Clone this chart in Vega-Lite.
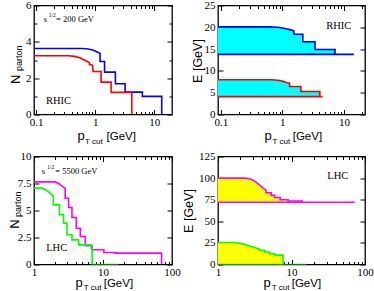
{
"$schema":"https://vega.github.io/schema/vega-lite/v6.json",
"padding":{"left":7,"top":-1.5,"right":0,"bottom":0},
"background":"white",
"columns":2,
"spacing":{"row":42,"column":46},
"bounds":"flush",
"align":"each",
"datasets":{
"d1":[
{"s":"b","i":0,"x":0.092,"y":3.63},{"s":"b","i":1,"x":0.6,"y":3.63},{"s":"b","i":2,"x":0.7,"y":3.62},{"s":"b","i":3,"x":0.8,"y":3.59},{"s":"b","i":4,"x":0.9,"y":3.55},{"s":"b","i":5,"x":1.0,"y":3.5},{"s":"b","i":6,"x":1.1,"y":3.43},{"s":"b","i":7,"x":1.21,"y":3.37},{"s":"b","i":8,"x":1.21,"y":2.92},{"s":"b","i":9,"x":1.44,"y":2.92},{"s":"b","i":10,"x":1.44,"y":2.33},{"s":"b","i":11,"x":2.2,"y":2.33},{"s":"b","i":12,"x":2.2,"y":1.69},{"s":"b","i":13,"x":3.21,"y":1.69},{"s":"b","i":14,"x":3.21,"y":1.23},{"s":"b","i":15,"x":6.3,"y":1.23},{"s":"b","i":16,"x":6.3,"y":1.0},{"s":"b","i":17,"x":13.4,"y":1.0},{"s":"b","i":18,"x":13.4,"y":0},
{"s":"r","i":19,"x":0.092,"y":3.23},{"s":"r","i":20,"x":0.35,"y":3.23},{"s":"r","i":21,"x":0.45,"y":3.2},{"s":"r","i":22,"x":0.55,"y":3.12},{"s":"r","i":23,"x":0.65,"y":3.0},{"s":"r","i":24,"x":0.75,"y":2.9},{"s":"r","i":25,"x":0.8,"y":2.85},{"s":"r","i":26,"x":0.8,"y":2.75},{"s":"r","i":27,"x":0.9,"y":2.72},{"s":"r","i":28,"x":0.92,"y":2.37},{"s":"r","i":29,"x":1.26,"y":2.37},{"s":"r","i":30,"x":1.26,"y":1.78},{"s":"r","i":31,"x":1.86,"y":1.78},{"s":"r","i":32,"x":1.86,"y":1.22},{"s":"r","i":33,"x":4.17,"y":1.22},{"s":"r","i":34,"x":4.17,"y":0}
],
"d2a":[
{"s":"b","i":0,"x":0.09,"y":20.1,"b":13.8},{"s":"b","i":1,"x":0.6,"y":20.1,"b":13.8},{"s":"b","i":2,"x":0.85,"y":20.0,"b":13.8},{"s":"b","i":3,"x":1.0,"y":19.85,"b":13.8},{"s":"b","i":4,"x":1.2,"y":19.6,"b":13.8},{"s":"b","i":5,"x":1.4,"y":19.35,"b":13.8},{"s":"b","i":6,"x":1.54,"y":19.2,"b":13.8},{"s":"b","i":7,"x":1.54,"y":18.4,"b":13.8},{"s":"b","i":8,"x":2.15,"y":18.4,"b":13.8},{"s":"b","i":9,"x":2.15,"y":16.7,"b":13.8},{"s":"b","i":10,"x":3.39,"y":16.7,"b":13.8},{"s":"b","i":11,"x":3.39,"y":14.9,"b":13.8},{"s":"b","i":12,"x":7.16,"y":14.9,"b":13.8},{"s":"b","i":13,"x":7.16,"y":13.8,"b":13.8},
{"s":"r","i":14,"x":0.09,"y":7.98,"b":4.1},{"s":"r","i":15,"x":0.66,"y":7.98,"b":4.1},{"s":"r","i":16,"x":0.85,"y":7.85,"b":4.1},{"s":"r","i":17,"x":1.02,"y":7.6,"b":4.1},{"s":"r","i":18,"x":1.2,"y":7.3,"b":4.1},{"s":"r","i":19,"x":1.31,"y":7.2,"b":4.1},{"s":"r","i":20,"x":1.31,"y":6.43,"b":4.1},{"s":"r","i":21,"x":2.0,"y":6.43,"b":4.1},{"s":"r","i":22,"x":2.0,"y":5.27,"b":4.1},{"s":"r","i":23,"x":4.06,"y":5.27,"b":4.1},{"s":"r","i":24,"x":4.06,"y":4.1,"b":4.1}
],
"d2b":[{"s":"b","i":0,"x":0.09,"y":13.8},{"s":"b","i":1,"x":14.5,"y":13.8},{"s":"r","i":2,"x":0.09,"y":4.1},{"s":"r","i":3,"x":4.5,"y":4.1}],
"d3":[
{"s":"m","i":0,"x":1,"y":7.65},{"s":"m","i":1,"x":2.0,"y":7.65},{"s":"m","i":2,"x":2.3,"y":7.5},{"s":"m","i":3,"x":2.54,"y":7.25},{"s":"m","i":4,"x":2.83,"y":7.05},{"s":"m","i":5,"x":2.83,"y":6.14},{"s":"m","i":6,"x":3.17,"y":6.14},{"s":"m","i":7,"x":3.17,"y":5.28},{"s":"m","i":8,"x":3.55,"y":5.28},{"s":"m","i":9,"x":3.55,"y":4.35},{"s":"m","i":10,"x":4.1,"y":4.35},{"s":"m","i":11,"x":4.1,"y":3.36},{"s":"m","i":12,"x":4.7,"y":3.36},{"s":"m","i":13,"x":4.7,"y":2.59},{"s":"m","i":14,"x":5.55,"y":2.59},{"s":"m","i":15,"x":5.55,"y":1.73},{"s":"m","i":16,"x":6.95,"y":1.73},{"s":"m","i":17,"x":6.95,"y":1.36},{"s":"m","i":18,"x":10.3,"y":1.36},{"s":"m","i":19,"x":10.3,"y":1.11},{"s":"m","i":20,"x":15.2,"y":1.11},{"s":"m","i":21,"x":15.2,"y":1.05},{"s":"m","i":22,"x":70.7,"y":1.05},{"s":"m","i":23,"x":70.7,"y":0},
{"s":"g","i":24,"x":1,"y":7.07},{"s":"g","i":25,"x":1.3,"y":7.07},{"s":"g","i":26,"x":1.5,"y":6.9},{"s":"g","i":27,"x":1.71,"y":6.6},{"s":"g","i":28,"x":1.91,"y":6.3},{"s":"g","i":29,"x":1.91,"y":5.52},{"s":"g","i":30,"x":2.34,"y":5.52},{"s":"g","i":31,"x":2.34,"y":4.6},{"s":"g","i":32,"x":2.68,"y":4.6},{"s":"g","i":33,"x":2.68,"y":3.83},{"s":"g","i":34,"x":3.0,"y":3.83},{"s":"g","i":35,"x":3.0,"y":2.75},{"s":"g","i":36,"x":3.55,"y":2.75},{"s":"g","i":37,"x":3.55,"y":2.28},{"s":"g","i":38,"x":4.43,"y":2.28},{"s":"g","i":39,"x":4.43,"y":1.82},{"s":"g","i":40,"x":6.71,"y":1.82},{"s":"g","i":41,"x":6.71,"y":1.51},{"s":"g","i":42,"x":6.95,"y":1.51},{"s":"g","i":43,"x":6.95,"y":0},{"s":"g","i":44,"x":16.8,"y":0}
],
"d4a":[
{"s":"m","i":0,"x":1,"y":100,"b":72.1},{"s":"m","i":1,"x":2.3,"y":100,"b":72.1},{"s":"m","i":2,"x":2.7,"y":99.3,"b":72.1},{"s":"m","i":3,"x":3.16,"y":96.5,"b":72.1},{"s":"m","i":4,"x":3.69,"y":92,"b":72.1},{"s":"m","i":5,"x":4.1,"y":88.5,"b":72.1},{"s":"m","i":6,"x":4.5,"y":86,"b":72.1},{"s":"m","i":7,"x":4.5,"y":83,"b":72.1},{"s":"m","i":8,"x":5.3,"y":83,"b":72.1},{"s":"m","i":9,"x":5.3,"y":80,"b":72.1},{"s":"m","i":10,"x":5.9,"y":80,"b":72.1},{"s":"m","i":11,"x":5.9,"y":77.5,"b":72.1},{"s":"m","i":12,"x":7.0,"y":77.5,"b":72.1},{"s":"m","i":13,"x":7.0,"y":75,"b":72.1},{"s":"m","i":14,"x":9.0,"y":75,"b":72.1},{"s":"m","i":15,"x":9.0,"y":73.5,"b":72.1},{"s":"m","i":16,"x":14,"y":73.5,"b":72.1},{"s":"m","i":17,"x":14,"y":72.1,"b":72.1},
{"s":"g","i":18,"x":1,"y":25.5,"b":0},{"s":"g","i":19,"x":1.7,"y":25.5,"b":0},{"s":"g","i":20,"x":2.07,"y":24.2,"b":0},{"s":"g","i":21,"x":2.56,"y":22,"b":0},{"s":"g","i":22,"x":3.16,"y":19.7,"b":0},{"s":"g","i":23,"x":3.69,"y":17.5,"b":0},{"s":"g","i":24,"x":3.69,"y":16.5,"b":0},{"s":"g","i":25,"x":4.32,"y":16.5,"b":0},{"s":"g","i":26,"x":4.32,"y":14.5,"b":0},{"s":"g","i":27,"x":5.05,"y":14.5,"b":0},{"s":"g","i":28,"x":5.05,"y":12.5,"b":0},{"s":"g","i":29,"x":5.9,"y":12.5,"b":0},{"s":"g","i":30,"x":5.9,"y":10.8,"b":0},{"s":"g","i":31,"x":7.67,"y":10.8,"b":0},{"s":"g","i":32,"x":7.67,"y":0,"b":0}
],
"d4b":[{"s":"m","i":0,"x":1,"y":72.1},{"s":"m","i":1,"x":72.3,"y":72.1},{"s":"g","i":2,"x":1,"y":0},{"s":"g","i":3,"x":15.9,"y":0}],
"t1":[{"x":0.135,"y":5.24,"t":"s"},{"x":0.218,"y":5.24,"t":"= 200 GeV"}],
"t1s":[{"x":0.164,"y":5.45,"t":"1/2"}],
"t1b":[{"x":0.147,"y":0.72,"t":"RHIC"}],
"t2b":[{"x":5.14,"y":20.3,"t":"RHIC"}],
"t3":[{"x":1.296,"y":8.7,"t":"s"},{"x":2.03,"y":8.7,"t":"= 5500 GeV"}],
"t3s":[{"x":1.55,"y":9.04,"t":"1/2"}],
"t3b":[{"x":1.5,"y":1.51,"t":"LHC"}],
"t4b":[{"x":30.7,"y":102.7,"t":"LHC"}]
},
"concat":[
{
"width":138,"height":109,
"layer":[
{"data":{"name":"d1"},"mark":{"type":"line","strokeWidth":1.6,"clip":true},
 "encoding":{"x":{"field":"x","type":"quantitative","scale":{"type":"log","domain":[0.092,20],"nice":false},"axis":null},
 "y":{"field":"y","type":"quantitative","scale":{"domain":[0,6],"nice":false},"axis":null},
 "color":{"field":"s","type":"nominal","scale":{"domain":["b","r","m","g"],"range":["#0000ff","#ff0000","#ff00ff","#00ff00"]},"legend":null},
 "order":{"field":"i","type":"quantitative"}}},
{"data":{"name":"t1"},"mark":{"type":"text","font":"Liberation Serif","fontSize":8.5,"align":"left","baseline":"middle","color":"#000"},
 "encoding":{"x":{"field":"x","type":"quantitative","scale":{"type":"log","domain":[0.092,20],"nice":false},"axis":null},"y":{"field":"y","type":"quantitative","scale":{"domain":[0,6],"nice":false},"axis":null},"text":{"field":"t","type":"nominal"}}},
{"data":{"name":"t1s"},"mark":{"type":"text","font":"Liberation Serif","fontSize":5.5,"align":"left","baseline":"middle","color":"#000"},
 "encoding":{"x":{"field":"x","type":"quantitative","scale":{"type":"log","domain":[0.092,20],"nice":false},"axis":null},"y":{"field":"y","type":"quantitative","scale":{"domain":[0,6],"nice":false},"axis":null},"text":{"field":"t","type":"nominal"}}},
{"data":{"name":"t1b"},"mark":{"type":"text","font":"Liberation Serif","fontSize":10.5,"align":"left","baseline":"middle","color":"#000"},
 "encoding":{"x":{"field":"x","type":"quantitative","scale":{"type":"log","domain":[0.092,20],"nice":false},"axis":null},"y":{"field":"y","type":"quantitative","scale":{"domain":[0,6],"nice":false},"axis":null},"text":{"field":"t","type":"nominal"}}},
{"data":{"name":"d1"},"mark":{"type":"point","opacity":0},
 "encoding":{"x":{"field":"x","type":"quantitative","scale":{"type":"log","domain":[0.092,20],"nice":false},"axis":{"orient":"bottom","values":[0.1,1,10],"labelExpr":"'' + datum.value","tickSize":-5,"labelPadding":7,"title":"p","titleFontSize":13,"titleAlign":"left","titleX":43,"titleY":25,"titleBaseline":"alphabetic"}},
 "y":{"field":"y","type":"quantitative","scale":{"domain":[0,6],"nice":false},"axis":{"orient":"left","values":[0,2,4,6],"labelExpr":"'' + datum.value","tickSize":-5,"labelPadding":8,"title":"N","titleFontSize":13,"titleAngle":-90,"titleAlign":"left","titleX":-14.7,"titleY":78,"titleBaseline":"alphabetic"}}}},
{"data":{"name":"d1"},"mark":{"type":"point","opacity":0},
 "encoding":{"x":{"field":"x","type":"quantitative","scale":{"type":"log","domain":[0.092,20],"nice":false},"axis":{"orient":"bottom","labels":false,"ticks":false,"title":"T cut","titleFontSize":8,"titleAlign":"left","titleX":50.5,"titleY":28.5,"titleBaseline":"alphabetic"}},
 "y":{"field":"y","type":"quantitative","scale":{"domain":[0,6],"nice":false},"axis":{"orient":"left","labels":false,"ticks":false,"title":"parton","titleFontSize":9,"titleAngle":-90,"titleAlign":"left","titleX":-12.3,"titleY":65,"titleBaseline":"alphabetic"}}}},
{"data":{"name":"d1"},"mark":{"type":"point","opacity":0},
 "encoding":{"x":{"field":"x","type":"quantitative","scale":{"type":"log","domain":[0.092,20],"nice":false},"axis":{"orient":"bottom","labels":false,"ticks":false,"title":"[GeV]","titleFontSize":11.5,"titleAlign":"left","titleX":72,"titleY":25,"titleBaseline":"alphabetic"}},
 "y":{"field":"y","type":"quantitative","scale":{"domain":[0,6],"nice":false},"axis":null}}},
{"data":{"name":"d1"},"mark":{"type":"point","opacity":0},
 "encoding":{"x":{"field":"x","type":"quantitative","scale":{"type":"log","domain":[0.092,20],"nice":false},"axis":{"orient":"top","values":[0.1,1,10],"labels":false,"tickSize":-5,"title":null}},
 "y":{"field":"y","type":"quantitative","scale":{"domain":[0,6],"nice":false},"axis":{"orient":"right","values":[0,2,4,6],"labels":false,"tickSize":-5,"title":null}}}},
{"data":{"name":"d1"},"mark":{"type":"point","opacity":0},
 "encoding":{"x":{"field":"x","type":"quantitative","scale":{"type":"log","domain":[0.092,20],"nice":false},"axis":{"orient":"bottom","values":[0.2,0.3,0.4,0.5,0.6,0.7,0.8,0.9,2,3,4,5,6,7,8,9],"labels":false,"tickSize":-3,"title":null}},
 "y":{"field":"y","type":"quantitative","scale":{"domain":[0,6],"nice":false},"axis":{"orient":"left","values":[1,3,5],"labels":false,"tickSize":-3,"title":null}}}},
{"data":{"name":"d1"},"mark":{"type":"point","opacity":0},
 "encoding":{"x":{"field":"x","type":"quantitative","scale":{"type":"log","domain":[0.092,20],"nice":false},"axis":{"orient":"top","values":[0.2,0.3,0.4,0.5,0.6,0.7,0.8,0.9,2,3,4,5,6,7,8,9],"labels":false,"tickSize":-3,"title":null}},
 "y":{"field":"y","type":"quantitative","scale":{"domain":[0,6],"nice":false},"axis":{"orient":"right","values":[1,3,5],"labels":false,"tickSize":-3,"title":null}}}}
],
"resolve":{"axis":{"x":"independent","y":"independent"}}
},
{
"width":147,"height":109,
"layer":[
{"data":{"name":"d2a"},"mark":{"type":"area","color":"#00ffff","opacity":1,"clip":true},
 "encoding":{"x":{"field":"x","type":"quantitative","scale":{"type":"log","domain":[0.09,22],"nice":false},"axis":null},
 "y":{"field":"y","type":"quantitative","scale":{"domain":[0,25],"nice":false},"axis":null,"stack":null},
 "y2":{"field":"b"},"detail":{"field":"s","type":"nominal"}}},
{"data":{"name":"d2a"},"mark":{"type":"line","strokeWidth":1.6,"clip":true},
 "encoding":{"x":{"field":"x","type":"quantitative","scale":{"type":"log","domain":[0.09,22],"nice":false},"axis":null},
 "y":{"field":"y","type":"quantitative","scale":{"domain":[0,25],"nice":false},"axis":null},
 "color":{"field":"s","type":"nominal","scale":{"domain":["b","r","m","g"],"range":["#0000ff","#ff0000","#ff00ff","#00ff00"]},"legend":null},
 "order":{"field":"i","type":"quantitative"}}},
{"data":{"name":"d2b"},"mark":{"type":"line","strokeWidth":1.6,"clip":true},
 "encoding":{"x":{"field":"x","type":"quantitative","scale":{"type":"log","domain":[0.09,22],"nice":false},"axis":null},
 "y":{"field":"y","type":"quantitative","scale":{"domain":[0,25],"nice":false},"axis":null},
 "color":{"field":"s","type":"nominal","scale":{"domain":["b","r","m","g"],"range":["#0000ff","#ff0000","#ff00ff","#00ff00"]},"legend":null},
 "order":{"field":"i","type":"quantitative"}}},
{"data":{"name":"t2b"},"mark":{"type":"text","font":"Liberation Serif","fontSize":10.5,"align":"left","baseline":"middle","color":"#000"},
 "encoding":{"x":{"field":"x","type":"quantitative","scale":{"type":"log","domain":[0.09,22],"nice":false},"axis":null},"y":{"field":"y","type":"quantitative","scale":{"domain":[0,25],"nice":false},"axis":null},"text":{"field":"t","type":"nominal"}}},
{"data":{"name":"d2a"},"mark":{"type":"point","opacity":0},
 "encoding":{"x":{"field":"x","type":"quantitative","scale":{"type":"log","domain":[0.09,22],"nice":false},"axis":{"orient":"bottom","values":[0.1,1,10],"labelExpr":"'' + datum.value","tickSize":-5,"labelPadding":7,"title":"p","titleFontSize":13,"titleAlign":"left","titleX":46,"titleY":25,"titleBaseline":"alphabetic"}},
 "y":{"field":"y","type":"quantitative","scale":{"domain":[0,25],"nice":false},"axis":{"orient":"left","values":[0,5,10,15,20,25],"labelExpr":"'' + datum.value","tickSize":-5,"labelPadding":8,"title":"E [GeV]","titleFontSize":12.5,"titleAngle":-90,"titleAlign":"center","titleX":-17,"titleY":55,"titleBaseline":"alphabetic"}}}},
{"data":{"name":"d2a"},"mark":{"type":"point","opacity":0},
 "encoding":{"x":{"field":"x","type":"quantitative","scale":{"type":"log","domain":[0.09,22],"nice":false},"axis":{"orient":"bottom","labels":false,"ticks":false,"title":"T cut","titleFontSize":8,"titleAlign":"left","titleX":54,"titleY":28.5,"titleBaseline":"alphabetic"}},
 "y":{"field":"y","type":"quantitative","scale":{"domain":[0,25],"nice":false},"axis":null}}},
{"data":{"name":"d2a"},"mark":{"type":"point","opacity":0},
 "encoding":{"x":{"field":"x","type":"quantitative","scale":{"type":"log","domain":[0.09,22],"nice":false},"axis":{"orient":"bottom","labels":false,"ticks":false,"title":"[GeV]","titleFontSize":11.5,"titleAlign":"left","titleX":74.2,"titleY":25,"titleBaseline":"alphabetic"}},
 "y":{"field":"y","type":"quantitative","scale":{"domain":[0,25],"nice":false},"axis":null}}},
{"data":{"name":"d2a"},"mark":{"type":"point","opacity":0},
 "encoding":{"x":{"field":"x","type":"quantitative","scale":{"type":"log","domain":[0.09,22],"nice":false},"axis":{"orient":"top","values":[0.1,1,10],"labels":false,"tickSize":-5,"title":null}},
 "y":{"field":"y","type":"quantitative","scale":{"domain":[0,25],"nice":false},"axis":{"orient":"right","values":[0,5,10,15,20,25],"labels":false,"tickSize":-5,"title":null}}}},
{"data":{"name":"d2a"},"mark":{"type":"point","opacity":0},
 "encoding":{"x":{"field":"x","type":"quantitative","scale":{"type":"log","domain":[0.09,22],"nice":false},"axis":{"orient":"bottom","values":[0.2,0.3,0.4,0.5,0.6,0.7,0.8,0.9,2,3,4,5,6,7,8,9,20],"labels":false,"tickSize":-3,"title":null}},
 "y":{"field":"y","type":"quantitative","scale":{"domain":[0,25],"nice":false},"axis":null}}},
{"data":{"name":"d2a"},"mark":{"type":"point","opacity":0},
 "encoding":{"x":{"field":"x","type":"quantitative","scale":{"type":"log","domain":[0.09,22],"nice":false},"axis":{"orient":"top","values":[0.2,0.3,0.4,0.5,0.6,0.7,0.8,0.9,2,3,4,5,6,7,8,9,20],"labels":false,"tickSize":-3,"title":null}},
 "y":{"field":"y","type":"quantitative","scale":{"domain":[0,25],"nice":false},"axis":null}}}
],
"resolve":{"axis":{"x":"independent","y":"independent"}}
},
{
"width":138,"height":108,
"layer":[
{"data":{"name":"d3"},"mark":{"type":"line","strokeWidth":1.6,"clip":true},
 "encoding":{"x":{"field":"x","type":"quantitative","scale":{"type":"log","domain":[1,100],"nice":false},"axis":null},
 "y":{"field":"y","type":"quantitative","scale":{"domain":[0,10],"nice":false},"axis":null},
 "color":{"field":"s","type":"nominal","scale":{"domain":["b","r","m","g"],"range":["#0000ff","#ff0000","#ff00ff","#00ff00"]},"legend":null},
 "order":{"field":"i","type":"quantitative"}}},
{"data":{"name":"t3"},"mark":{"type":"text","font":"Liberation Serif","fontSize":8.5,"align":"left","baseline":"middle","color":"#000"},
 "encoding":{"x":{"field":"x","type":"quantitative","scale":{"type":"log","domain":[1,100],"nice":false},"axis":null},"y":{"field":"y","type":"quantitative","scale":{"domain":[0,10],"nice":false},"axis":null},"text":{"field":"t","type":"nominal"}}},
{"data":{"name":"t3s"},"mark":{"type":"text","font":"Liberation Serif","fontSize":5.5,"align":"left","baseline":"middle","color":"#000"},
 "encoding":{"x":{"field":"x","type":"quantitative","scale":{"type":"log","domain":[1,100],"nice":false},"axis":null},"y":{"field":"y","type":"quantitative","scale":{"domain":[0,10],"nice":false},"axis":null},"text":{"field":"t","type":"nominal"}}},
{"data":{"name":"t3b"},"mark":{"type":"text","font":"Liberation Serif","fontSize":10.5,"align":"left","baseline":"middle","color":"#000"},
 "encoding":{"x":{"field":"x","type":"quantitative","scale":{"type":"log","domain":[1,100],"nice":false},"axis":null},"y":{"field":"y","type":"quantitative","scale":{"domain":[0,10],"nice":false},"axis":null},"text":{"field":"t","type":"nominal"}}},
{"data":{"name":"d3"},"mark":{"type":"point","opacity":0},
 "encoding":{"x":{"field":"x","type":"quantitative","scale":{"type":"log","domain":[1,100],"nice":false},"axis":{"orient":"bottom","values":[1,10,100],"labelExpr":"'' + datum.value","tickSize":-5,"labelPadding":7,"title":"p","titleFontSize":13,"titleAlign":"left","titleX":41,"titleY":21.5,"titleBaseline":"alphabetic"}},
 "y":{"field":"y","type":"quantitative","scale":{"domain":[0,10],"nice":false},"axis":{"orient":"left","values":[0,2.5,5,7.5,10],"labelExpr":"'' + datum.value","tickSize":-5,"labelPadding":8,"title":"N","titleFontSize":13,"titleAngle":-90,"titleAlign":"left","titleX":-16,"titleY":71.7,"titleBaseline":"alphabetic"}}}},
{"data":{"name":"d3"},"mark":{"type":"point","opacity":0},
 "encoding":{"x":{"field":"x","type":"quantitative","scale":{"type":"log","domain":[1,100],"nice":false},"axis":{"orient":"bottom","labels":false,"ticks":false,"title":"T cut","titleFontSize":8,"titleAlign":"left","titleX":49.3,"titleY":25,"titleBaseline":"alphabetic"}},
 "y":{"field":"y","type":"quantitative","scale":{"domain":[0,10],"nice":false},"axis":{"orient":"left","labels":false,"ticks":false,"title":"parton","titleFontSize":9,"titleAngle":-90,"titleAlign":"left","titleX":-13.3,"titleY":60,"titleBaseline":"alphabetic"}}}},
{"data":{"name":"d3"},"mark":{"type":"point","opacity":0},
 "encoding":{"x":{"field":"x","type":"quantitative","scale":{"type":"log","domain":[1,100],"nice":false},"axis":{"orient":"bottom","labels":false,"ticks":false,"title":"[GeV]","titleFontSize":11.5,"titleAlign":"left","titleX":69.2,"titleY":21.5,"titleBaseline":"alphabetic"}},
 "y":{"field":"y","type":"quantitative","scale":{"domain":[0,10],"nice":false},"axis":null}}},
{"data":{"name":"d3"},"mark":{"type":"point","opacity":0},
 "encoding":{"x":{"field":"x","type":"quantitative","scale":{"type":"log","domain":[1,100],"nice":false},"axis":{"orient":"top","values":[1,10,100],"labels":false,"tickSize":-5,"title":null}},
 "y":{"field":"y","type":"quantitative","scale":{"domain":[0,10],"nice":false},"axis":{"orient":"right","values":[0,2.5,5,7.5,10],"labels":false,"tickSize":-5,"title":null}}}},
{"data":{"name":"d3"},"mark":{"type":"point","opacity":0},
 "encoding":{"x":{"field":"x","type":"quantitative","scale":{"type":"log","domain":[1,100],"nice":false},"axis":{"orient":"bottom","values":[2,3,4,5,6,7,8,9,20,30,40,50,60,70,80,90],"labels":false,"tickSize":-3,"title":null}},
 "y":{"field":"y","type":"quantitative","scale":{"domain":[0,10],"nice":false},"axis":null}}},
{"data":{"name":"d3"},"mark":{"type":"point","opacity":0},
 "encoding":{"x":{"field":"x","type":"quantitative","scale":{"type":"log","domain":[1,100],"nice":false},"axis":{"orient":"top","values":[2,3,4,5,6,7,8,9,20,30,40,50,60,70,80,90],"labels":false,"tickSize":-3,"title":null}},
 "y":{"field":"y","type":"quantitative","scale":{"domain":[0,10],"nice":false},"axis":null}}}
],
"resolve":{"axis":{"x":"independent","y":"independent"}}
},
{
"width":147,"height":108,
"layer":[
{"data":{"name":"d4a"},"mark":{"type":"area","color":"#ffff00","opacity":1,"clip":true},
 "encoding":{"x":{"field":"x","type":"quantitative","scale":{"type":"log","domain":[1,100],"nice":false},"axis":null},
 "y":{"field":"y","type":"quantitative","scale":{"domain":[0,125],"nice":false},"axis":null,"stack":null},
 "y2":{"field":"b"},"detail":{"field":"s","type":"nominal"}}},
{"data":{"name":"d4a"},"mark":{"type":"line","strokeWidth":1.6,"clip":true},
 "encoding":{"x":{"field":"x","type":"quantitative","scale":{"type":"log","domain":[1,100],"nice":false},"axis":null},
 "y":{"field":"y","type":"quantitative","scale":{"domain":[0,125],"nice":false},"axis":null},
 "color":{"field":"s","type":"nominal","scale":{"domain":["b","r","m","g"],"range":["#0000ff","#ff0000","#ff00ff","#00ff00"]},"legend":null},
 "order":{"field":"i","type":"quantitative"}}},
{"data":{"name":"d4b"},"mark":{"type":"line","strokeWidth":1.6,"clip":true},
 "encoding":{"x":{"field":"x","type":"quantitative","scale":{"type":"log","domain":[1,100],"nice":false},"axis":null},
 "y":{"field":"y","type":"quantitative","scale":{"domain":[0,125],"nice":false},"axis":null},
 "color":{"field":"s","type":"nominal","scale":{"domain":["b","r","m","g"],"range":["#0000ff","#ff0000","#ff00ff","#00ff00"]},"legend":null},
 "order":{"field":"i","type":"quantitative"}}},
{"data":{"name":"t4b"},"mark":{"type":"text","font":"Liberation Serif","fontSize":10.5,"align":"left","baseline":"middle","color":"#000"},
 "encoding":{"x":{"field":"x","type":"quantitative","scale":{"type":"log","domain":[1,100],"nice":false},"axis":null},"y":{"field":"y","type":"quantitative","scale":{"domain":[0,125],"nice":false},"axis":null},"text":{"field":"t","type":"nominal"}}},
{"data":{"name":"d4a"},"mark":{"type":"point","opacity":0},
 "encoding":{"x":{"field":"x","type":"quantitative","scale":{"type":"log","domain":[1,100],"nice":false},"axis":{"orient":"bottom","values":[1,10,100],"labelExpr":"'' + datum.value","tickSize":-5,"labelPadding":7,"title":"p","titleFontSize":13,"titleAlign":"left","titleX":45,"titleY":21.5,"titleBaseline":"alphabetic"}},
 "y":{"field":"y","type":"quantitative","scale":{"domain":[0,125],"nice":false},"axis":{"orient":"left","values":[0,25,50,75,100,125],"labelExpr":"'' + datum.value","tickSize":-5,"labelPadding":8,"title":"E [GeV]","titleFontSize":12.5,"titleAngle":-90,"titleAlign":"center","titleX":-26,"titleY":54,"titleBaseline":"alphabetic"}}}},
{"data":{"name":"d4a"},"mark":{"type":"point","opacity":0},
 "encoding":{"x":{"field":"x","type":"quantitative","scale":{"type":"log","domain":[1,100],"nice":false},"axis":{"orient":"bottom","labels":false,"ticks":false,"title":"T cut","titleFontSize":8,"titleAlign":"left","titleX":53.3,"titleY":25,"titleBaseline":"alphabetic"}},
 "y":{"field":"y","type":"quantitative","scale":{"domain":[0,125],"nice":false},"axis":null}}},
{"data":{"name":"d4a"},"mark":{"type":"point","opacity":0},
 "encoding":{"x":{"field":"x","type":"quantitative","scale":{"type":"log","domain":[1,100],"nice":false},"axis":{"orient":"bottom","labels":false,"ticks":false,"title":"[GeV]","titleFontSize":11.5,"titleAlign":"left","titleX":73.2,"titleY":21.5,"titleBaseline":"alphabetic"}},
 "y":{"field":"y","type":"quantitative","scale":{"domain":[0,125],"nice":false},"axis":null}}},
{"data":{"name":"d4a"},"mark":{"type":"point","opacity":0},
 "encoding":{"x":{"field":"x","type":"quantitative","scale":{"type":"log","domain":[1,100],"nice":false},"axis":{"orient":"top","values":[1,10,100],"labels":false,"tickSize":-5,"title":null}},
 "y":{"field":"y","type":"quantitative","scale":{"domain":[0,125],"nice":false},"axis":{"orient":"right","values":[0,25,50,75,100,125],"labels":false,"tickSize":-5,"title":null}}}},
{"data":{"name":"d4a"},"mark":{"type":"point","opacity":0},
 "encoding":{"x":{"field":"x","type":"quantitative","scale":{"type":"log","domain":[1,100],"nice":false},"axis":{"orient":"bottom","values":[2,3,4,5,6,7,8,9,20,30,40,50,60,70,80,90],"labels":false,"tickSize":-3,"title":null}},
 "y":{"field":"y","type":"quantitative","scale":{"domain":[0,125],"nice":false},"axis":null}}},
{"data":{"name":"d4a"},"mark":{"type":"point","opacity":0},
 "encoding":{"x":{"field":"x","type":"quantitative","scale":{"type":"log","domain":[1,100],"nice":false},"axis":{"orient":"top","values":[2,3,4,5,6,7,8,9,20,30,40,50,60,70,80,90],"labels":false,"tickSize":-3,"title":null}},
 "y":{"field":"y","type":"quantitative","scale":{"domain":[0,125],"nice":false},"axis":null}}}
],
"resolve":{"axis":{"x":"independent","y":"independent"}}
}
],
"config":{
"view":{"stroke":"#000","strokeWidth":1.3},
"axis":{"domain":false,"grid":false,"labelFont":"Liberation Serif","labelFontSize":11,"labelColor":"#000","tickColor":"#000","tickWidth":1,"titleFont":"Liberation Sans","titleFontWeight":"normal","titleColor":"#000","labelOverlap":false,"labelFlush":false,"zindex":1}
}
}
